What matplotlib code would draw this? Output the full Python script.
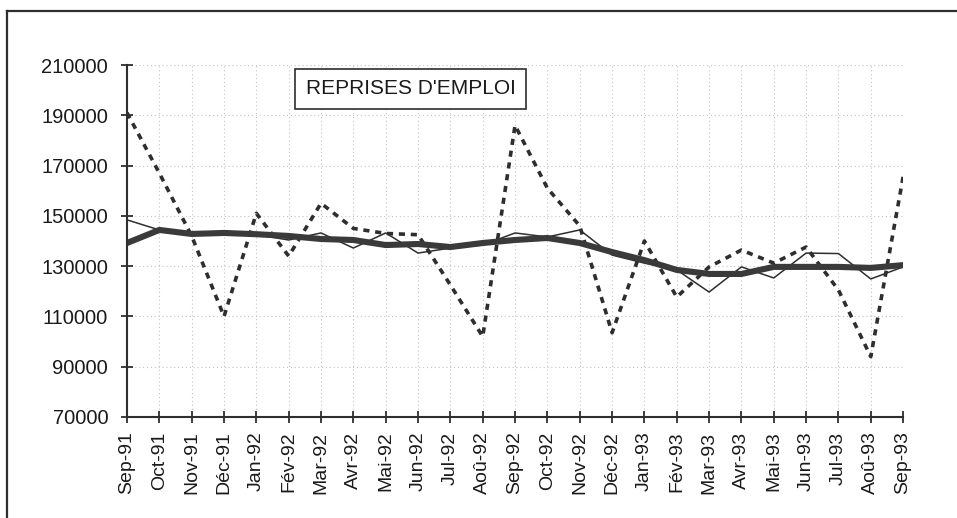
import matplotlib
matplotlib.use('Agg')
import matplotlib.pyplot as plt
from matplotlib.lines import Line2D

# Monthly data, Sep-91 .. Sep-93

months = ['Sep-91', 'Oct-91', 'Nov-91', 'Déc-91', 'Jan-92', 'Fév-92', 'Mar-92',
          'Avr-92', 'Mai-92', 'Jun-92', 'Jul-92', 'Aoû-92', 'Sep-92', 'Oct-92',
          'Nov-92', 'Déc-92', 'Jan-93', 'Fév-93', 'Mar-93', 'Avr-93', 'Mai-93',
          'Jun-93', 'Jul-93', 'Aoû-93', 'Sep-93']

raw = [191000, 167000, 142000, 110000, 151000, 134000, 155000, 145000, 143000,
       142500, 122500, 102000, 186000, 161000, 146000, 103500, 140000, 117700,
       129700, 136400, 131200, 137600, 120500, 94000, 165500]

adjusted = [148400, 144400, 143000, 143000, 142500, 140400, 143200, 137200, 143200,
            135200, 137200, 138400, 143200, 141600, 144400, 134400, 131200, 128500,
            119700, 129700, 125300, 135200, 135000, 124900, 129700]

trend = [139200, 144400, 142800, 143200, 142700, 142000, 140800, 140400, 138400,
         138800, 137600, 139200, 140400, 141200, 139200, 135600, 132400, 128500,
         126900, 126900, 129700, 129700, 129700, 129300, 130400]

y_ticks = [70000, 90000, 110000, 130000, 150000, 170000, 190000, 210000]

plt.rcParams['font.family'] = ['Liberation Sans', 'DejaVu Sans']

fig = plt.figure(figsize=(9.57, 5.18), dpi=100)
ax = fig.add_axes([0.1327, 0.195, 0.811, 0.6795])

x = list(range(len(months)))
line_color = '#2e2e2e'

ax.plot(x, raw, color=line_color, linewidth=2.6, linestyle=(0, (1.7, 1.6)))
ax.plot(x, adjusted, color=line_color, linewidth=1.1)
ax.plot(x, trend, color='#3a3a3a', linewidth=4.4, solid_capstyle='round')

ax.set_xlim(0, len(months) - 1)
ax.set_ylim(70000, 210000)
ax.set_xticks(x)
ax.set_xticklabels(months, rotation=90, fontsize=14)
ax.set_yticks(y_ticks)
ax.set_yticklabels([str(v) for v in y_ticks], fontsize=14.5)

ax.grid(True, color='#c4c4c4', linestyle=(0, (1, 2.5)), linewidth=0.8)
ax.spines['top'].set_visible(False)
ax.spines['right'].set_visible(False)
ax.spines['left'].set_color(line_color)
ax.spines['bottom'].set_color(line_color)
ax.spines['left'].set_linewidth(1.5)
ax.spines['bottom'].set_linewidth(1.5)
ax.tick_params(axis='both', direction='inout', length=9, width=1.3,
               color=line_color, labelcolor='#1a1a1a')
ax.tick_params(axis='y', pad=9)
ax.tick_params(axis='x', pad=6)

ax.text(0.23, 0.933, "REPRISES D'EMPLOI", transform=ax.transAxes, fontsize=15,
        color='#1a1a1a', ha='left', va='center',
        bbox=dict(boxstyle='square,pad=0.5', facecolor='white',
                  edgecolor=line_color, linewidth=1.2))

# Outer frame (top and left edges of the scanned box)
fig.add_artist(Line2D([7 / 957, 1.0], [1 - 11 / 518, 1 - 11 / 518],
                      transform=fig.transFigure, color=line_color, linewidth=1.6))
fig.add_artist(Line2D([7 / 957, 7 / 957], [0.0, 1 - 11 / 518],
                      transform=fig.transFigure, color=line_color, linewidth=1.6))

fig.savefig('out.png', dpi=100)
